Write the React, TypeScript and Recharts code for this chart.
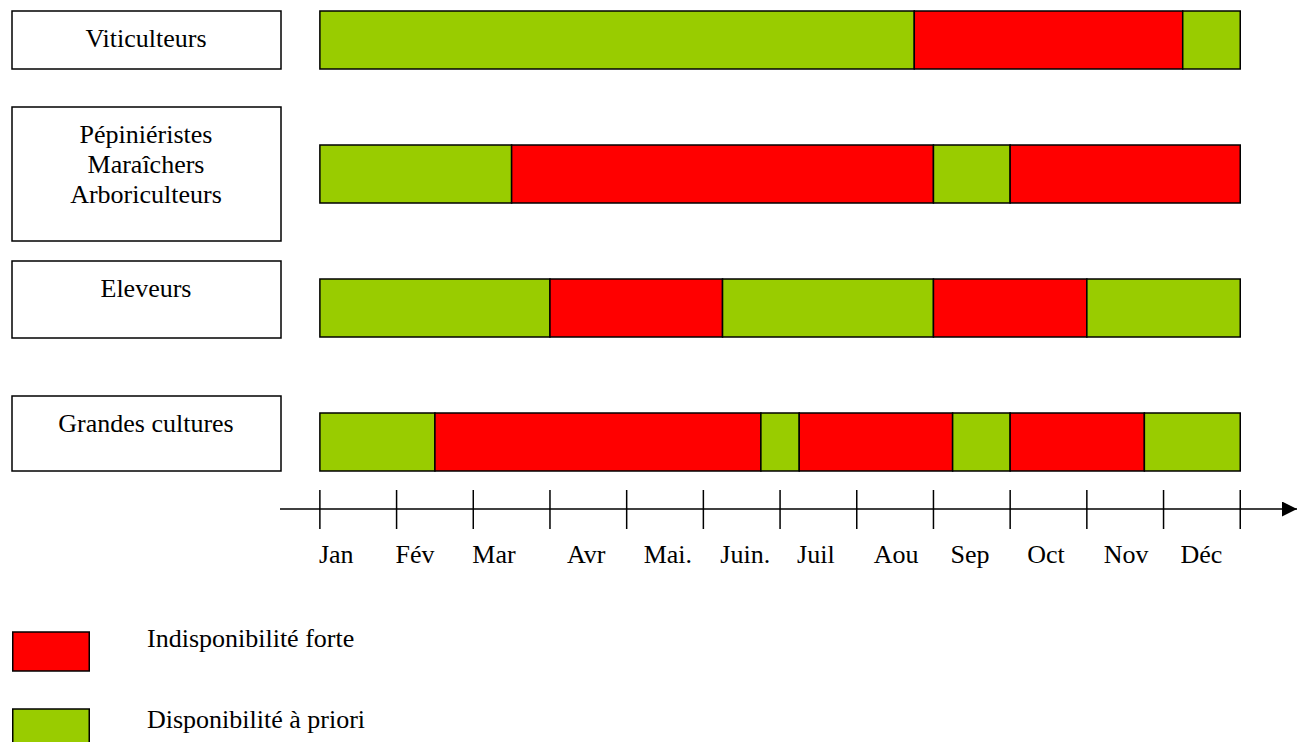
import React from "react";
import { Bar, BarChart, Cell, Legend, XAxis, YAxis } from "recharts";

type Status = "dispo" | "indispo";
type Segment = [Status, number];

// Month labels and month boundaries (0 = start of January, 12 = end of December)
const months = ["Jan", "Fév", "Mar", "Avr", "Mai.", "Juin.", "Juil", "Aou", "Sep", "Oct", "Nov", "Déc"];
const monthTicks = [0, 1, 2, 3, 4, 5, 6, 7, 8, 9, 10, 11, 12];

const categories = [
  "Viticulteurs",
  "Pépiniéristes\nMaraîchers\nArboriculteurs",
  "Eleveurs",
  "Grandes cultures",
];

// Periods in months, in calendar order
const viticulteurs: Segment[] = [["dispo", 7.75], ["indispo", 3.5], ["dispo", 0.75]];
const pepinieristes: Segment[] = [["dispo", 2.5], ["indispo", 5.5], ["dispo", 1], ["indispo", 3]];
const eleveurs: Segment[] = [["dispo", 3], ["indispo", 2.25], ["dispo", 2.75], ["indispo", 2], ["dispo", 2]];
const grandesCultures: Segment[] = [
  ["dispo", 1.5],
  ["indispo", 4.25],
  ["dispo", 0.5],
  ["indispo", 2],
  ["dispo", 0.75],
  ["indispo", 1.75],
  ["dispo", 1.25],
];

const legendItems: [Status, string][] = [
  ["indispo", "Indisponibilité forte"],
  ["dispo", "Disponibilité à priori"],
];

const COLORS: Record<Status, string> = { dispo: "#99CC00", indispo: "#FF0000" };
const FONT = '"Liberation Serif", Tinos, "DejaVu Serif", "Noto Serif", serif';
const textStyle = { fontFamily: FONT, fontSize: 26 };

const allSegments = [viticulteurs, pepinieristes, eleveurs, grandesCultures];
const segCount = Math.max(...allSegments.map((s) => s.length));
const segKeys = Array.from({ length: segCount }, (_, j) => `s${j}`);

const rows = categories.map((name, i) => {
  const row: Record<string, string | number> = { name };
  allSegments[i].forEach(([status, months], j) => {
    row[`s${j}`] = months;
    row[`st${j}`] = status;
  });
  return row;
});

// label boxes: extent around the band centre
const BOX_TOP = [-29, -67, -47, -46];
const BOX_BOTTOM = [29, 67, 30, 29];

function LabelBox(props: any) {
  const { x, y, payload, index } = props;
  const lines = String(payload.value).split("\n");
  const top = y + BOX_TOP[index];
  const cx = x - 134;
  return (
    <g>
      <rect
        x={x - 268}
        y={top}
        width={269}
        height={BOX_BOTTOM[index] - BOX_TOP[index]}
        fill="#fff"
        stroke="#000"
        strokeWidth={1.5}
      />
      {lines.map((line, k) => (
        <text key={k} x={cx} y={top + 36 + k * 30} textAnchor="middle" style={textStyle} fill="#000">
          {line}
        </text>
      ))}
    </g>
  );
}

function MonthTick(props: any) {
  const { x, y, payload } = props;
  const v = Number(payload.value);
  return (
    <g>
      <line x1={x} x2={x} y1={y - 19} y2={y + 20} stroke="#000" strokeWidth={1.5} />
      {v < months.length && (
        <text x={x + (v < 3 ? -1 : 17)} y={y + 54} textAnchor="start" style={textStyle} fill="#000">
          {months[v]}
        </text>
      )}
    </g>
  );
}

function LegendBlock() {
  return (
    <svg width={500} height={122} style={{ display: "block" }}>
      {legendItems.map(([status, label], i) => (
        <g key={status}>
          <rect
            x={12.75}
            y={12 + i * 77}
            width={76.5}
            height={39}
            fill={COLORS[status]}
            stroke="#000"
            strokeWidth={1.5}
          />
          <text x={147} y={27 + i * 81} style={textStyle} fill="#000">
            {label}
          </text>
        </g>
      ))}
    </svg>
  );
}

export default function App() {
  return (
    <div
      style={{
        position: "absolute",
        left: 0,
        top: -27,
        width: 1308,
        height: 769,
        background: "#fff",
        fontFamily: FONT,
      }}
    >
      <BarChart
        width={1308}
        height={769}
        data={rows}
        layout="vertical"
        margin={{ top: 0, right: 11, bottom: 173, left: 0 }}
      >
        <defs>
          <marker
            id="axisArrow"
            viewBox="0 0 10 10"
            refX={10}
            refY={5}
            markerUnits="userSpaceOnUse"
            markerWidth={16}
            markerHeight={15}
            orient="auto"
          >
            <path d="M0,0 L10,5 L0,10 z" fill="#000" />
          </marker>
        </defs>
        <XAxis
          type="number"
          domain={[-0.52, 12.74]}
          ticks={monthTicks}
          interval={0}
          height={60}
          tickSize={0}
          tickMargin={0}
          tickLine={false}
          axisLine={{ stroke: "#000", strokeWidth: 1.5, markerEnd: "url(#axisArrow)" }}
          tick={<MonthTick />}
        />
        <YAxis
          type="category"
          dataKey="name"
          width={280}
          interval={0}
          tickSize={0}
          tickMargin={0}
          axisLine={false}
          tickLine={false}
          tick={<LabelBox />}
        />
        <Legend
          layout="horizontal"
          verticalAlign="middle"
          align="center"
          wrapperStyle={{ position: "absolute", left: 0, top: 647, width: 500, height: 122 }}
          content={() => <LegendBlock />}
        />
        {segKeys.map((key, j) => (
          <Bar
            key={key}
            dataKey={key}
            stackId="periods"
            barSize={58}
            stroke="#000"
            strokeWidth={1.5}
            isAnimationActive={false}
          >
            {rows.map((row, i) => (
              <Cell key={i} fill={COLORS[row[`st${j}`] as Status] ?? "none"} />
            ))}
          </Bar>
        ))}
      </BarChart>
    </div>
  );
}
